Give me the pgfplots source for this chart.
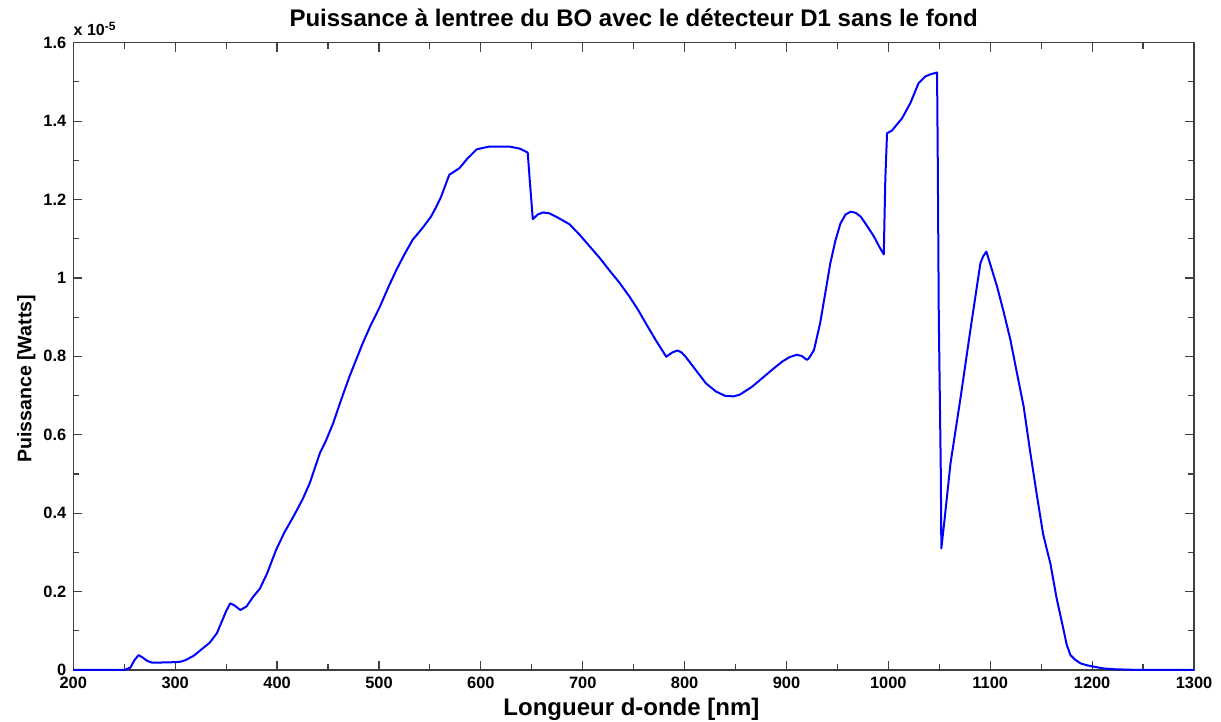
\documentclass[border=0pt]{standalone}
\usepackage{fontspec}
\setmainfont{Liberation Sans}
\usepackage{pgfplots}
\pgfplotsset{compat=1.18}
\begin{document}
\begin{tikzpicture}
\path[use as bounding box] (-36.65pt,-26pt) rectangle (573.85pt,335pt);
\begin{axis}[
  at={(0,0)}, anchor=south west,
  scale only axis, width=560.35pt, height=313.65pt,
  xmin=200, xmax=1300, ymin=0, ymax=1.6,
  xtick={200,300,400,500,600,700,800,900,1000,1100,1200,1300},
  ytick={0,0.2,0.4,0.6,0.8,1,1.2,1.4,1.6},
  minor tick num=1,
  tick align=inside,
  major tick length=4.5pt, minor tick length=3pt,
  axis line style={black!75, line width=0.6pt},
  every tick/.style={black!75, line width=0.6pt},
  tick label style={font=\fontsize{8.2}{9}\selectfont\bfseries},
  /pgf/number format/assume math mode=true,
  /pgf/number format/1000 sep={},
  xlabel={Longueur d-onde [nm]},
  xlabel style={at={(rel axis cs:0.498,-0.062)}, anchor=center, font=\fontsize{12}{14}\selectfont\bfseries},
  ylabel={Puissance [Watts]},
  ylabel style={at={(rel axis cs:-0.042,0.464)}, anchor=center, rotate=0, font=\fontsize{9.8}{12}\selectfont\bfseries},
  clip=false,
]
\addplot[color={rgb,255:red,0;green,0;blue,255}, line width=1pt, line join=round] table {
200 0
250 0
253 0.003
256 0.006
260 0.025
264 0.038
268 0.032
272 0.024
277 0.019
285 0.019
300 0.020
305 0.021
310 0.025
318 0.036
327 0.055
334 0.070
341 0.094
350 0.150
354 0.170
358 0.165
364 0.153
370 0.162
376 0.185
383 0.207
390 0.245
399 0.306
407 0.350
416 0.391
425 0.435
432 0.476
442 0.553
448 0.585
455 0.629
463 0.690
471 0.748
484 0.833
492 0.880
501 0.927
509 0.975
517 1.020
525 1.060
533 1.097
542 1.125
551 1.156
556 1.180
561 1.207
569 1.263
579 1.280
587 1.305
596 1.328
608 1.335
628 1.335
638 1.330
646 1.320
648 1.25
651 1.150
656 1.162
661 1.167
667 1.165
674 1.156
687 1.137
697 1.110
707 1.080
717 1.050
726 1.020
736 0.988
746 0.952
754 0.920
762 0.884
772 0.840
782 0.799
788 0.810
793 0.815
797 0.810
801 0.799
811 0.765
821 0.731
831 0.710
840 0.699
848 0.698
854 0.702
866 0.722
876 0.744
886 0.766
896 0.787
903 0.798
910 0.804
915 0.801
920 0.791
922 0.795
927 0.816
933 0.884
938 0.960
943 1.037
948 1.095
953 1.139
958 1.162
963 1.169
968 1.166
973 1.156
979 1.133
986 1.105
991 1.080
995.5 1.060
997 1.250
998.7 1.369
1003.6 1.376
1008 1.390
1013.4 1.407
1021.6 1.446
1029.7 1.497
1036.3 1.514
1041 1.519
1047.8 1.524
1048.5 1.30
1049.5 0.90
1051.5 0.50
1052 0.31
1055 0.38
1061 0.527
1071 0.697
1080.5 0.867
1090.3 1.037
1093 1.055
1096.2 1.067
1100 1.035
1106.7 0.978
1113 0.915
1119.8 0.842
1126 0.760
1132.8 0.672
1139 0.560
1146 0.442
1152 0.345
1159 0.272
1165 0.185
1172 0.102
1175 0.065
1178.7 0.038
1183 0.027
1188.5 0.017
1195 0.012
1201.6 0.0085
1211 0.004
1221 0.002
1240 0.0005
1260 0
1300 0
};
\node[anchor=south west, inner sep=0pt, font=\fontsize{8}{9}\selectfont\bfseries] at (rel axis cs:0.0,1.01) {x 10\textsuperscript{-5}};
\node[anchor=center, inner sep=0pt, font=\fontsize{12}{14}\selectfont\bfseries] at (rel axis cs:0.5,1.04) {Puissance à lentree du BO avec le détecteur D1 sans le fond};
\end{axis}
\end{tikzpicture}
\end{document}
